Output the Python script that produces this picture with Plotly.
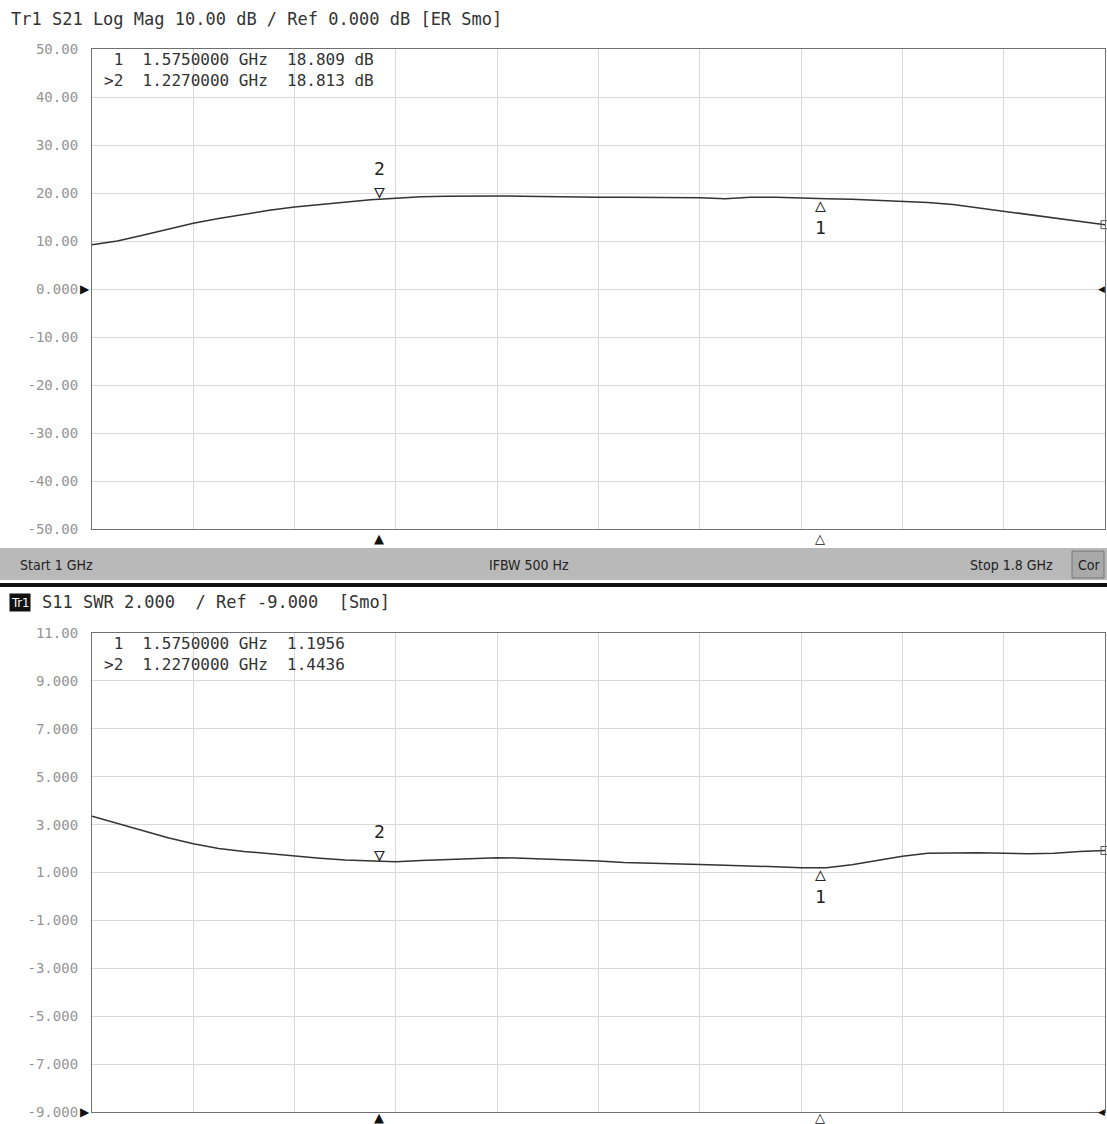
import plotly.graph_objects as go

W, H = 1107, 1124

# ---------------- data ----------------
freq_ghz = [1.00, 1.02, 1.04, 1.06, 1.08, 1.10, 1.12, 1.14, 1.16, 1.18,
            1.20, 1.22, 1.24, 1.26, 1.28, 1.30, 1.32, 1.34, 1.36, 1.38,
            1.40, 1.42, 1.44, 1.46, 1.48, 1.50, 1.52, 1.54, 1.56, 1.58,
            1.60, 1.62, 1.64, 1.66, 1.68, 1.70, 1.72, 1.74, 1.76, 1.78, 1.80]

s21_db = [9.2, 10.0, 11.2, 12.5, 13.7, 14.7, 15.6, 16.4, 17.1, 17.6,
          18.1, 18.6, 18.9, 19.2, 19.3, 19.4, 19.4, 19.3, 19.2, 19.2,
          19.1, 19.1, 19.1, 19.0, 19.0, 18.8, 19.1, 19.1, 18.9, 18.8,
          18.7, 18.5, 18.3, 18.0, 17.6, 16.9, 16.3, 15.6, 14.9, 14.2, 13.4]

s11_swr = [3.35, 3.05, 2.75, 2.45, 2.20, 2.00, 1.88, 1.78, 1.70, 1.60,
           1.52, 1.47, 1.45, 1.50, 1.55, 1.60, 1.62, 1.60, 1.57, 1.52,
           1.48, 1.42, 1.38, 1.35, 1.33, 1.30, 1.28, 1.24, 1.20, 1.20,
           1.32, 1.50, 1.68, 1.80, 1.82, 1.82, 1.80, 1.78, 1.80, 1.88, 1.92]

marker_ids = ["1", "2"]
marker_freq = [1.575, 1.227]
marker_s21 = [18.809, 18.813]
marker_swr = [1.1956, 1.4436]

s21_ticks = [50, 40, 30, 20, 10, 0, -10, -20, -30, -40, -50]
s21_ticktext = ["50.00", "40.00", "30.00", "20.00", "10.00", "0.000",
                "-10.00", "-20.00", "-30.00", "-40.00", "-50.00"]
swr_ticks = [11, 9, 7, 5, 3, 1, -1, -3, -5, -7, -9]
swr_ticktext = ["11.00", "9.000", "7.000", "5.000", "3.000", "1.000",
                "-1.000", "-3.000", "-5.000", "-7.000", "-9.000"]

top_header = "Tr1 S21 Log Mag 10.00 dB / Ref 0.000 dB [ER Smo]"
bot_header = "S11 SWR 2.000  / Ref -9.000  [Smo]"
s21_readout = [" 1  1.5750000 GHz  18.809 dB", ">2  1.2270000 GHz  18.813 dB"]
swr_readout = [" 1  1.5750000 GHz  1.1956", ">2  1.2270000 GHz  1.4436"]

# ---------------- helpers ----------------
def px(x):
    return x / W

def py(y):
    return 1 - y / H

MONO = "DejaVu Sans Mono"
COND = "DejaVu Sans Condensed, Liberation Sans Narrow, DejaVu Sans"
GRID = "#d9d9d9"
FRAME = "#707070"
TRACE = "#333333"
TICK = "#949494"

fig = go.Figure()

fig.add_trace(go.Scatter(x=freq_ghz, y=s21_db, mode="lines",
                         line=dict(color=TRACE, width=1.5),
                         xaxis="x", yaxis="y", showlegend=False))
fig.add_trace(go.Scatter(x=freq_ghz, y=s11_swr, mode="lines",
                         line=dict(color=TRACE, width=1.5),
                         xaxis="x2", yaxis="y2", showlegend=False))
# trace-end indicators
fig.add_trace(go.Scatter(x=[freq_ghz[-1]], y=[s21_db[-1]], mode="markers",
                         marker=dict(symbol="square-open", size=8, color="#555"),
                         cliponaxis=False, xaxis="x", yaxis="y", showlegend=False))
fig.add_trace(go.Scatter(x=[freq_ghz[-1]], y=[s11_swr[-1]], mode="markers",
                         marker=dict(symbol="square-open", size=8, color="#555"),
                         cliponaxis=False, xaxis="x2", yaxis="y2", showlegend=False))

xdom = [px(92), px(1105)]
axis_common = dict(showgrid=True, gridcolor=GRID, gridwidth=1, zeroline=False,
                   showline=True, linecolor=FRAME, linewidth=1.2, mirror=True,
                   ticks="", fixedrange=True, automargin=False)

fig.update_layout(
    width=W, height=H,
    margin=dict(l=0, r=0, t=0, b=0, autoexpand=False),
    paper_bgcolor="white", plot_bgcolor="white",
    xaxis=dict(domain=xdom, range=[1.0, 1.8], dtick=0.08, tick0=1.0,
               showticklabels=False, anchor="y", **axis_common),
    yaxis=dict(domain=[py(529), py(49)], range=[-50, 50], tickvals=s21_ticks,
               ticktext=s21_ticktext, anchor="x", ticklabelstandoff=10,
               tickfont=dict(family=MONO, size=14, color=TICK), **axis_common),
    xaxis2=dict(domain=xdom, range=[1.0, 1.8], dtick=0.08, tick0=1.0,
                showticklabels=False, anchor="y2", **axis_common),
    yaxis2=dict(domain=[py(1112), py(633)], range=[-9, 11], tickvals=swr_ticks,
                ticktext=swr_ticktext, anchor="x2", ticklabelstandoff=10,
                tickfont=dict(family=MONO, size=14, color=TICK), **axis_common),
    font=dict(family=MONO, color="#333"),
)

ann = []
shapes = []

# Headers
ann.append(dict(x=px(9), y=py(19), xref="paper", yref="paper", text=top_header,
                showarrow=False, xanchor="left", yanchor="middle",
                font=dict(family=MONO, size=17, color="#333")))
ann.append(dict(x=px(9), y=py(602), xref="paper", yref="paper", text="Tr1",
                showarrow=False, xanchor="left", yanchor="middle", bgcolor="#111",
                borderpad=1, font=dict(family=COND, size=13, color="white")))
ann.append(dict(x=px(40), y=py(602), xref="paper", yref="paper",
                text=bot_header.replace(" ", "&nbsp;"),
                showarrow=False, xanchor="left", yanchor="middle",
                font=dict(family=MONO, size=17, color="#333")))

# Marker readouts (two lines per block)
def block(lines):
    return "<br>".join(l.replace(" ", "&nbsp;") for l in lines)

ann.append(dict(x=px(102), y=py(70), xref="paper", yref="paper",
                text=block(s21_readout), showarrow=False, align="left",
                xanchor="left", yanchor="middle",
                font=dict(family=MONO, size=16, color="#333")))
ann.append(dict(x=px(102), y=py(654), xref="paper", yref="paper",
                text=block(swr_readout), showarrow=False, align="left",
                xanchor="left", yanchor="middle",
                font=dict(family=MONO, size=16, color="#333")))

# Markers on traces
for mid, f, v1, v2 in zip(marker_ids, marker_freq, marker_s21, marker_swr):
    for xr, yr, v in (("x", "y", v1), ("x2", "y2", v2)):
        if mid == "2":
            ann.append(dict(x=f, y=v, xref=xr, yref=yr, text="2<br>▽",
                            showarrow=False, xanchor="center", yanchor="bottom",
                            yshift=-5,
                            font=dict(family=MONO, size=18, color="#222")))
        else:
            ann.append(dict(x=f, y=v, xref=xr, yref=yr, text="△<br>1",
                            showarrow=False, xanchor="center", yanchor="top",
                            yshift=7,
                            font=dict(family=MONO, size=18, color="#222")))
    # bottom-of-grid marker indicators
    sym = "▲" if mid == "2" else "△"
    for xr, ybot in (("x", 538), ("x2", 1117)):
        ann.append(dict(x=f, y=py(ybot), xref=xr, yref="paper", text=sym,
                        showarrow=False, xanchor="center", yanchor="middle",
                        font=dict(family="DejaVu Sans", size=13, color="#111")))

# Reference level arrows (left) and right-edge indicators
for yref_px in (289, 1112):
    ann.append(dict(x=px(92), y=py(yref_px), xref="paper", yref="paper", text="▶",
                    showarrow=False, xanchor="right", yanchor="middle",
                    font=dict(family="DejaVu Sans", size=12, color="#111")))
    ann.append(dict(x=1, y=py(yref_px), xref="paper", yref="paper", text="◀",
                    showarrow=False, xanchor="right", yanchor="middle",
                    font=dict(family="DejaVu Sans", size=9, color="#111")))

# Status bar
shapes.append(dict(type="rect", xref="paper", yref="paper", x0=0, x1=1,
                   y0=py(580), y1=py(548), fillcolor="#b9b9b9",
                   line=dict(width=0), layer="below"))
shapes.append(dict(type="rect", xref="paper", yref="paper", x0=px(1072), x1=px(1104),
                   y0=py(578), y1=py(551), fillcolor="#a9a9a9",
                   line=dict(width=1, color="#777"), layer="below"))
shapes.append(dict(type="line", xref="paper", yref="paper", x0=0, x1=1,
                   y0=py(585), y1=py(585), line=dict(color="#111", width=4)))

for txt, xpos in (("Start 1 GHz", 18), ("IFBW 500 Hz", 487),
                  ("Stop 1.8 GHz", 968), ("Cor", 1076)):
    ann.append(dict(x=px(xpos), y=py(565), xref="paper", yref="paper", text=txt,
                    showarrow=False, xanchor="left", yanchor="middle",
                    font=dict(family=COND, size=14, color="#222")))

fig.update_layout(annotations=ann, shapes=shapes)

fig.write_html(
    "out.html",
    config={"displayModeBar": False},
    post_script=(
        "document.documentElement.style.margin='0';"
        "document.body.style.margin='0';"
        "document.body.style.padding='0';"
        "document.body.style.overflow='hidden';"
        "var gd=document.getElementById('{plot_id}');"
        "gd.style.position='fixed';gd.style.top='0px';gd.style.left='0px';"
    ),
)
